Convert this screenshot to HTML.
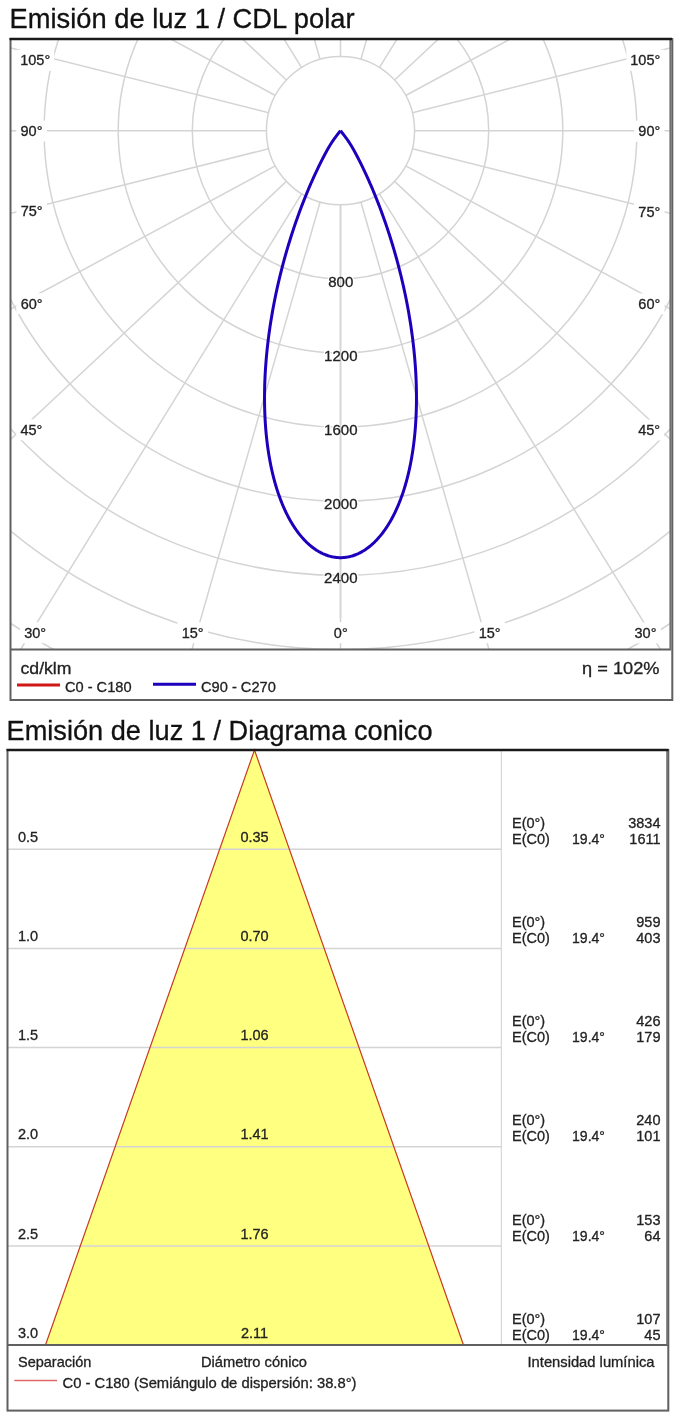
<!DOCTYPE html>
<html><head><meta charset="utf-8"><title>Emisión de luz</title>
<style>html,body{margin:0;padding:0;background:#fff;width:681px;height:1422px;overflow:hidden;font-family:"Liberation Sans", sans-serif}</style>
</head><body><svg width="681" height="1422" viewBox="0 0 681 1422" style="position:absolute;left:0;top:0;will-change:transform;font-family:'Liberation Sans', sans-serif"><text x="9.50" y="28.00" font-size="27.2" text-anchor="start" fill="#111" stroke="#111" stroke-width="0.3" textLength="345" lengthAdjust="spacingAndGlyphs" >Emisión de luz 1 / CDL polar</text><defs><clipPath id="pc"><rect x="10.5" y="39" width="660.0" height="610.5"/></clipPath></defs><g clip-path="url(#pc)" fill="none" stroke="#d4d4d4" stroke-width="1.5"><circle cx="340.5" cy="130.7" r="74.10"/><circle cx="340.5" cy="130.7" r="148.20"/><circle cx="340.5" cy="130.7" r="222.30"/><circle cx="340.5" cy="130.7" r="296.40"/><circle cx="340.5" cy="130.7" r="370.50"/><circle cx="340.5" cy="130.7" r="444.60"/><circle cx="340.5" cy="130.7" r="518.70"/><circle cx="340.5" cy="130.7" r="592.80"/><circle cx="340.5" cy="130.7" r="666.90"/><line x1="340.50" y1="204.80" x2="340.50" y2="1030.70"/><line x1="360.89" y1="201.94" x2="588.19" y2="995.94"/><line x1="379.40" y1="193.77" x2="812.99" y2="896.70"/><line x1="394.60" y1="181.34" x2="997.58" y2="745.72"/><line x1="405.69" y1="165.93" x2="1132.28" y2="558.58"/><line x1="412.37" y1="148.73" x2="1213.46" y2="349.64"/><line x1="414.60" y1="130.70" x2="1240.50" y2="130.70"/><line x1="412.37" y1="112.67" x2="1213.46" y2="-88.24"/><line x1="405.69" y1="95.47" x2="1132.28" y2="-297.18"/><line x1="394.60" y1="80.06" x2="997.58" y2="-484.32"/><line x1="379.40" y1="67.63" x2="812.99" y2="-635.30"/><line x1="360.89" y1="59.46" x2="588.19" y2="-734.54"/><line x1="340.50" y1="56.60" x2="340.50" y2="-769.30"/><line x1="320.11" y1="59.46" x2="92.81" y2="-734.54"/><line x1="301.60" y1="67.63" x2="-131.99" y2="-635.30"/><line x1="286.40" y1="80.06" x2="-316.58" y2="-484.32"/><line x1="275.31" y1="95.47" x2="-451.28" y2="-297.18"/><line x1="268.63" y1="112.67" x2="-532.46" y2="-88.24"/><line x1="266.40" y1="130.70" x2="-559.50" y2="130.70"/><line x1="268.63" y1="148.73" x2="-532.46" y2="349.64"/><line x1="275.31" y1="165.93" x2="-451.28" y2="558.58"/><line x1="286.40" y1="181.34" x2="-316.58" y2="745.72"/><line x1="301.60" y1="193.77" x2="-131.99" y2="896.70"/><line x1="320.11" y1="201.94" x2="92.81" y2="995.94"/></g><rect x="16.20" y="49.80" width="38.0" height="21" fill="#fff"/><text x="35.20" y="65.30" font-size="14.5" text-anchor="middle" fill="#222" stroke="#222" stroke-width="0.3" >105°</text><rect x="16.25" y="120.50" width="30.5" height="21" fill="#fff"/><text x="31.50" y="136.00" font-size="14.5" text-anchor="middle" fill="#222" stroke="#222" stroke-width="0.3" >90°</text><rect x="16.35" y="200.50" width="30.5" height="21" fill="#fff"/><text x="31.60" y="216.00" font-size="14.5" text-anchor="middle" fill="#222" stroke="#222" stroke-width="0.3" >75°</text><rect x="16.35" y="293.20" width="30.5" height="21" fill="#fff"/><text x="31.60" y="308.70" font-size="14.5" text-anchor="middle" fill="#222" stroke="#222" stroke-width="0.3" >60°</text><rect x="16.15" y="419.30" width="30.5" height="21" fill="#fff"/><text x="31.40" y="434.80" font-size="14.5" text-anchor="middle" fill="#222" stroke="#222" stroke-width="0.3" >45°</text><rect x="19.95" y="622.20" width="30.5" height="21" fill="#fff"/><text x="35.20" y="637.70" font-size="14.5" text-anchor="middle" fill="#222" stroke="#222" stroke-width="0.3" >30°</text><rect x="626.30" y="49.80" width="38.0" height="21" fill="#fff"/><text x="645.30" y="65.30" font-size="14.5" text-anchor="middle" fill="#222" stroke="#222" stroke-width="0.3" >105°</text><rect x="634.05" y="120.70" width="30.5" height="21" fill="#fff"/><text x="649.30" y="136.20" font-size="14.5" text-anchor="middle" fill="#222" stroke="#222" stroke-width="0.3" >90°</text><rect x="634.05" y="201.00" width="30.5" height="21" fill="#fff"/><text x="649.30" y="216.50" font-size="14.5" text-anchor="middle" fill="#222" stroke="#222" stroke-width="0.3" >75°</text><rect x="634.05" y="293.40" width="30.5" height="21" fill="#fff"/><text x="649.30" y="308.90" font-size="14.5" text-anchor="middle" fill="#222" stroke="#222" stroke-width="0.3" >60°</text><rect x="633.85" y="419.50" width="30.5" height="21" fill="#fff"/><text x="649.10" y="435.00" font-size="14.5" text-anchor="middle" fill="#222" stroke="#222" stroke-width="0.3" >45°</text><rect x="630.25" y="622.40" width="30.5" height="21" fill="#fff"/><text x="645.50" y="637.90" font-size="14.5" text-anchor="middle" fill="#222" stroke="#222" stroke-width="0.3" >30°</text><rect x="177.45" y="622.20" width="30.5" height="21" fill="#fff"/><text x="192.70" y="637.70" font-size="14.5" text-anchor="middle" fill="#222" stroke="#222" stroke-width="0.3" >15°</text><rect x="474.45" y="622.20" width="30.5" height="21" fill="#fff"/><text x="489.70" y="637.70" font-size="14.5" text-anchor="middle" fill="#222" stroke="#222" stroke-width="0.3" >15°</text><rect x="329.30" y="622.20" width="23.0" height="21" fill="#fff"/><text x="340.80" y="637.70" font-size="14.5" text-anchor="middle" fill="#222" stroke="#222" stroke-width="0.3" >0°</text><text x="340.8" y="286.50" font-size="15" text-anchor="middle" fill="#fff" stroke="#fff" stroke-width="3">800</text><text x="340.8" y="360.60" font-size="15" text-anchor="middle" fill="#fff" stroke="#fff" stroke-width="3">1200</text><text x="340.8" y="434.70" font-size="15" text-anchor="middle" fill="#fff" stroke="#fff" stroke-width="3">1600</text><text x="340.8" y="508.80" font-size="15" text-anchor="middle" fill="#fff" stroke="#fff" stroke-width="3">2000</text><text x="340.8" y="582.90" font-size="15" text-anchor="middle" fill="#fff" stroke="#fff" stroke-width="3">2400</text><line x1="340.5" y1="204.80" x2="340.5" y2="618" stroke="#d4d4d4" stroke-width="1.5"/><text x="340.80" y="286.50" font-size="15" text-anchor="middle" fill="#222" stroke="#222" stroke-width="0.3" >800</text><text x="340.80" y="360.60" font-size="15" text-anchor="middle" fill="#222" stroke="#222" stroke-width="0.3" >1200</text><text x="340.80" y="434.70" font-size="15" text-anchor="middle" fill="#222" stroke="#222" stroke-width="0.3" >1600</text><text x="340.80" y="508.80" font-size="15" text-anchor="middle" fill="#222" stroke="#222" stroke-width="0.3" >2000</text><text x="340.80" y="582.90" font-size="15" text-anchor="middle" fill="#222" stroke="#222" stroke-width="0.3" >2400</text><path d="M340.50,130.70 L340.01,131.30 L339.50,131.94 L339.01,132.55 L338.54,133.15 L338.09,133.73 L337.65,134.29 L337.23,134.83 L336.83,135.36 L336.44,135.87 L336.07,136.37 L335.71,136.85 L335.36,137.32 L335.02,137.78 L334.70,138.23 L334.39,138.66 L334.08,139.09 L333.79,139.50 L333.50,139.91 L333.23,140.30 L332.96,140.69 L332.70,141.07 L332.45,141.45 L332.20,141.82 L331.96,142.18 L331.72,142.54 L331.49,142.89 L331.27,143.25 L331.05,143.59 L330.83,143.94 L330.61,144.28 L330.40,144.62 L330.19,144.96 L329.98,145.30 L329.78,145.64 L329.57,145.98 L329.37,146.32 L329.17,146.66 L328.96,147.01 L328.76,147.35 L328.56,147.70 L328.36,148.05 L328.16,148.40 L327.95,148.76 L327.75,149.12 L327.54,149.49 L327.33,149.86 L327.12,150.24 L326.91,150.62 L326.70,151.01 L326.48,151.40 L326.26,151.80 L326.04,152.21 L325.82,152.62 L325.59,153.05 L325.36,153.48 L325.12,153.91 L324.89,154.36 L324.65,154.81 L324.40,155.28 L324.15,155.75 L323.90,156.23 L323.64,156.72 L323.38,157.22 L323.12,157.73 L322.85,158.26 L322.58,158.79 L322.30,159.33 L322.02,159.88 L321.74,160.44 L321.44,161.02 L321.15,161.60 L320.85,162.20 L320.55,162.81 L320.24,163.43 L319.93,164.06 L319.61,164.70 L319.29,165.36 L318.96,166.03 L318.63,166.71 L318.30,167.40 L317.96,168.11 L317.61,168.83 L317.26,169.56 L316.91,170.30 L316.55,171.06 L316.19,171.82 L315.83,172.61 L315.46,173.40 L315.08,174.21 L314.70,175.03 L314.32,175.87 L313.93,176.71 L313.54,177.57 L313.15,178.45 L312.75,179.34 L312.35,180.24 L311.94,181.15 L311.53,182.08 L311.12,183.02 L310.70,183.97 L310.29,184.94 L309.86,185.92 L309.44,186.91 L309.01,187.92 L308.57,188.94 L308.14,189.98 L307.70,191.02 L307.26,192.08 L306.82,193.16 L306.37,194.24 L305.92,195.34 L305.47,196.46 L305.02,197.58 L304.56,198.72 L304.10,199.87 L303.64,201.04 L303.18,202.21 L302.72,203.40 L302.25,204.60 L301.79,205.82 L301.32,207.05 L300.85,208.28 L300.38,209.54 L299.91,210.80 L299.44,212.08 L298.97,213.36 L298.49,214.66 L298.02,215.97 L297.54,217.30 L297.07,218.63 L296.59,219.98 L296.12,221.33 L295.64,222.70 L295.16,224.08 L294.69,225.47 L294.21,226.88 L293.74,228.29 L293.26,229.71 L292.79,231.14 L292.32,232.59 L291.85,234.04 L291.37,235.51 L290.90,236.98 L290.43,238.47 L289.97,239.96 L289.50,241.46 L289.04,242.98 L288.57,244.50 L288.11,246.03 L287.65,247.57 L287.19,249.12 L286.74,250.68 L286.28,252.25 L285.83,253.82 L285.38,255.41 L284.94,257.00 L284.49,258.60 L284.05,260.21 L283.62,261.82 L283.18,263.45 L282.75,265.08 L282.32,266.71 L281.89,268.36 L281.47,270.01 L281.05,271.67 L280.63,273.34 L280.22,275.01 L279.81,276.69 L279.41,278.37 L279.01,280.06 L278.61,281.76 L278.22,283.46 L277.83,285.17 L277.44,286.88 L277.06,288.60 L276.68,290.32 L276.31,292.05 L275.94,293.78 L275.58,295.52 L275.22,297.26 L274.87,299.01 L274.52,300.76 L274.18,302.51 L273.84,304.27 L273.51,306.03 L273.18,307.80 L272.85,309.56 L272.54,311.33 L272.22,313.11 L271.92,314.89 L271.62,316.66 L271.32,318.45 L271.03,320.23 L270.74,322.02 L270.46,323.80 L270.19,325.59 L269.92,327.39 L269.66,329.18 L269.41,330.97 L269.16,332.77 L268.91,334.57 L268.68,336.36 L268.44,338.16 L268.22,339.96 L268.00,341.76 L267.79,343.56 L267.58,345.36 L267.38,347.16 L267.19,348.96 L267.00,350.76 L266.82,352.55 L266.65,354.35 L266.48,356.15 L266.32,357.94 L266.17,359.74 L266.02,361.53 L265.88,363.32 L265.75,365.11 L265.62,366.90 L265.50,368.69 L265.39,370.47 L265.28,372.25 L265.18,374.03 L265.09,375.81 L265.01,377.58 L264.93,379.35 L264.86,381.12 L264.79,382.89 L264.73,384.65 L264.68,386.41 L264.64,388.17 L264.60,389.92 L264.58,391.67 L264.55,393.41 L264.54,395.15 L264.53,396.89 L264.53,398.62 L264.54,400.35 L264.55,402.07 L264.57,403.79 L264.60,405.51 L264.64,407.21 L264.68,408.92 L264.73,410.62 L264.79,412.31 L264.85,414.00 L264.92,415.68 L265.00,417.36 L265.08,419.03 L265.18,420.70 L265.28,422.35 L265.38,424.01 L265.50,425.65 L265.62,427.30 L265.75,428.93 L265.88,430.56 L266.03,432.18 L266.17,433.79 L266.33,435.40 L266.49,437.00 L266.67,438.59 L266.84,440.18 L267.03,441.76 L267.22,443.33 L267.42,444.89 L267.62,446.45 L267.84,447.99 L268.06,449.53 L268.28,451.07 L268.51,452.59 L268.75,454.11 L269.00,455.62 L269.25,457.11 L269.51,458.61 L269.78,460.09 L270.06,461.56 L270.34,463.03 L270.62,464.48 L270.92,465.93 L271.22,467.37 L271.52,468.80 L271.84,470.22 L272.16,471.63 L272.48,473.04 L272.81,474.43 L273.15,475.81 L273.50,477.19 L273.85,478.55 L274.21,479.90 L274.57,481.25 L274.94,482.58 L275.32,483.91 L275.70,485.22 L276.09,486.53 L276.48,487.82 L276.88,489.11 L277.29,490.38 L277.70,491.65 L278.12,492.90 L278.54,494.14 L278.97,495.37 L279.41,496.60 L279.85,497.81 L280.30,499.01 L280.75,500.20 L281.21,501.38 L281.67,502.55 L282.14,503.70 L282.61,504.85 L283.09,505.98 L283.58,507.11 L284.07,508.22 L284.56,509.32 L285.06,510.41 L285.57,511.49 L286.08,512.56 L286.60,513.61 L287.12,514.66 L287.64,515.69 L288.17,516.71 L288.71,517.72 L289.25,518.72 L289.79,519.70 L290.34,520.67 L290.90,521.64 L291.46,522.59 L292.02,523.53 L292.59,524.45 L293.16,525.37 L293.73,526.27 L294.31,527.16 L294.90,528.04 L295.49,528.90 L296.08,529.75 L296.68,530.60 L297.28,531.42 L297.88,532.24 L298.49,533.04 L299.10,533.84 L299.72,534.62 L300.34,535.38 L300.96,536.14 L301.59,536.88 L302.22,537.61 L302.85,538.32 L303.49,539.03 L304.13,539.72 L304.77,540.40 L305.42,541.06 L306.07,541.72 L306.72,542.36 L307.38,542.98 L308.04,543.60 L308.70,544.20 L309.37,544.79 L310.03,545.36 L310.71,545.93 L311.38,546.48 L312.05,547.01 L312.73,547.54 L313.41,548.05 L314.10,548.55 L314.78,549.03 L315.47,549.50 L316.16,549.96 L316.85,550.41 L317.55,550.84 L318.24,551.26 L318.94,551.67 L319.64,552.06 L320.34,552.44 L321.05,552.81 L321.75,553.16 L322.46,553.50 L323.17,553.83 L323.88,554.14 L324.59,554.44 L325.31,554.73 L326.02,555.00 L326.74,555.26 L327.45,555.51 L328.17,555.74 L328.89,555.97 L329.61,556.17 L330.33,556.37 L331.06,556.55 L331.78,556.71 L332.50,556.87 L333.23,557.01 L333.95,557.14 L334.68,557.25 L335.41,557.35 L336.13,557.44 L336.86,557.51 L337.59,557.57 L338.32,557.62 L339.04,557.65 L339.77,557.67 L340.50,557.68 L341.23,557.67 L341.96,557.65 L342.68,557.62 L343.41,557.57 L344.14,557.51 L344.87,557.44 L345.59,557.35 L346.32,557.25 L347.05,557.14 L347.77,557.01 L348.50,556.87 L349.22,556.71 L349.94,556.55 L350.67,556.37 L351.39,556.17 L352.11,555.97 L352.83,555.74 L353.55,555.51 L354.26,555.26 L354.98,555.00 L355.69,554.73 L356.41,554.44 L357.12,554.14 L357.83,553.83 L358.54,553.50 L359.25,553.16 L359.95,552.81 L360.66,552.44 L361.36,552.06 L362.06,551.67 L362.76,551.26 L363.45,550.84 L364.15,550.41 L364.84,549.96 L365.53,549.50 L366.22,549.03 L366.90,548.55 L367.59,548.05 L368.27,547.54 L368.95,547.01 L369.62,546.48 L370.29,545.93 L370.97,545.36 L371.63,544.79 L372.30,544.20 L372.96,543.60 L373.62,542.98 L374.28,542.36 L374.93,541.72 L375.58,541.06 L376.23,540.40 L376.87,539.72 L377.51,539.03 L378.15,538.32 L378.78,537.61 L379.41,536.88 L380.04,536.14 L380.66,535.38 L381.28,534.62 L381.90,533.84 L382.51,533.04 L383.12,532.24 L383.72,531.42 L384.32,530.60 L384.92,529.75 L385.51,528.90 L386.10,528.04 L386.69,527.16 L387.27,526.27 L387.84,525.37 L388.41,524.45 L388.98,523.53 L389.54,522.59 L390.10,521.64 L390.66,520.67 L391.21,519.70 L391.75,518.72 L392.29,517.72 L392.83,516.71 L393.36,515.69 L393.88,514.66 L394.40,513.61 L394.92,512.56 L395.43,511.49 L395.94,510.41 L396.44,509.32 L396.93,508.22 L397.42,507.11 L397.91,505.98 L398.39,504.85 L398.86,503.70 L399.33,502.55 L399.79,501.38 L400.25,500.20 L400.70,499.01 L401.15,497.81 L401.59,496.60 L402.03,495.37 L402.46,494.14 L402.88,492.90 L403.30,491.65 L403.71,490.38 L404.12,489.11 L404.52,487.82 L404.91,486.53 L405.30,485.22 L405.68,483.91 L406.06,482.58 L406.43,481.25 L406.79,479.90 L407.15,478.55 L407.50,477.19 L407.85,475.81 L408.19,474.43 L408.52,473.04 L408.84,471.63 L409.16,470.22 L409.48,468.80 L409.78,467.37 L410.08,465.93 L410.38,464.48 L410.66,463.03 L410.94,461.56 L411.22,460.09 L411.49,458.61 L411.75,457.11 L412.00,455.62 L412.25,454.11 L412.49,452.59 L412.72,451.07 L412.94,449.53 L413.16,447.99 L413.38,446.45 L413.58,444.89 L413.78,443.33 L413.97,441.76 L414.16,440.18 L414.33,438.59 L414.51,437.00 L414.67,435.40 L414.83,433.79 L414.97,432.18 L415.12,430.56 L415.25,428.93 L415.38,427.30 L415.50,425.65 L415.62,424.01 L415.72,422.35 L415.82,420.70 L415.92,419.03 L416.00,417.36 L416.08,415.68 L416.15,414.00 L416.21,412.31 L416.27,410.62 L416.32,408.92 L416.36,407.21 L416.40,405.51 L416.43,403.79 L416.45,402.07 L416.46,400.35 L416.47,398.62 L416.47,396.89 L416.46,395.15 L416.45,393.41 L416.42,391.67 L416.40,389.92 L416.36,388.17 L416.32,386.41 L416.27,384.65 L416.21,382.89 L416.14,381.12 L416.07,379.35 L415.99,377.58 L415.91,375.81 L415.82,374.03 L415.72,372.25 L415.61,370.47 L415.50,368.69 L415.38,366.90 L415.25,365.11 L415.12,363.32 L414.98,361.53 L414.83,359.74 L414.68,357.94 L414.52,356.15 L414.35,354.35 L414.18,352.55 L414.00,350.76 L413.81,348.96 L413.62,347.16 L413.42,345.36 L413.21,343.56 L413.00,341.76 L412.78,339.96 L412.56,338.16 L412.32,336.36 L412.09,334.57 L411.84,332.77 L411.59,330.97 L411.34,329.18 L411.08,327.39 L410.81,325.59 L410.54,323.80 L410.26,322.02 L409.97,320.23 L409.68,318.45 L409.38,316.66 L409.08,314.89 L408.78,313.11 L408.46,311.33 L408.15,309.56 L407.82,307.80 L407.49,306.03 L407.16,304.27 L406.82,302.51 L406.48,300.76 L406.13,299.01 L405.78,297.26 L405.42,295.52 L405.06,293.78 L404.69,292.05 L404.32,290.32 L403.94,288.60 L403.56,286.88 L403.17,285.17 L402.78,283.46 L402.39,281.76 L401.99,280.06 L401.59,278.37 L401.19,276.69 L400.78,275.01 L400.37,273.34 L399.95,271.67 L399.53,270.01 L399.11,268.36 L398.68,266.71 L398.25,265.08 L397.82,263.45 L397.38,261.82 L396.95,260.21 L396.51,258.60 L396.06,257.00 L395.62,255.41 L395.17,253.82 L394.72,252.25 L394.26,250.68 L393.81,249.12 L393.35,247.57 L392.89,246.03 L392.43,244.50 L391.96,242.98 L391.50,241.46 L391.03,239.96 L390.57,238.47 L390.10,236.98 L389.63,235.51 L389.15,234.04 L388.68,232.59 L388.21,231.14 L387.74,229.71 L387.26,228.29 L386.79,226.88 L386.31,225.47 L385.84,224.08 L385.36,222.70 L384.88,221.33 L384.41,219.98 L383.93,218.63 L383.46,217.30 L382.98,215.97 L382.51,214.66 L382.03,213.36 L381.56,212.08 L381.09,210.80 L380.62,209.54 L380.15,208.28 L379.68,207.05 L379.21,205.82 L378.75,204.60 L378.28,203.40 L377.82,202.21 L377.36,201.04 L376.90,199.87 L376.44,198.72 L375.98,197.58 L375.53,196.46 L375.08,195.34 L374.63,194.24 L374.18,193.16 L373.74,192.08 L373.30,191.02 L372.86,189.98 L372.43,188.94 L371.99,187.92 L371.56,186.91 L371.14,185.92 L370.71,184.94 L370.30,183.97 L369.88,183.02 L369.47,182.08 L369.06,181.15 L368.65,180.24 L368.25,179.34 L367.85,178.45 L367.46,177.57 L367.07,176.71 L366.68,175.87 L366.30,175.03 L365.92,174.21 L365.54,173.40 L365.17,172.61 L364.81,171.82 L364.45,171.06 L364.09,170.30 L363.74,169.56 L363.39,168.83 L363.04,168.11 L362.70,167.40 L362.37,166.71 L362.04,166.03 L361.71,165.36 L361.39,164.70 L361.07,164.06 L360.76,163.43 L360.45,162.81 L360.15,162.20 L359.85,161.60 L359.56,161.02 L359.26,160.44 L358.98,159.88 L358.70,159.33 L358.42,158.79 L358.15,158.26 L357.88,157.73 L357.62,157.22 L357.36,156.72 L357.10,156.23 L356.85,155.75 L356.60,155.28 L356.35,154.81 L356.11,154.36 L355.88,153.91 L355.64,153.48 L355.41,153.05 L355.18,152.62 L354.96,152.21 L354.74,151.80 L354.52,151.40 L354.30,151.01 L354.09,150.62 L353.88,150.24 L353.67,149.86 L353.46,149.49 L353.25,149.12 L353.05,148.76 L352.84,148.40 L352.64,148.05 L352.44,147.70 L352.24,147.35 L352.04,147.01 L351.83,146.66 L351.63,146.32 L351.43,145.98 L351.22,145.64 L351.02,145.30 L350.81,144.96 L350.60,144.62 L350.39,144.28 L350.17,143.94 L349.95,143.59 L349.73,143.25 L349.51,142.89 L349.28,142.54 L349.04,142.18 L348.80,141.82 L348.55,141.45 L348.30,141.07 L348.04,140.69 L347.77,140.30 L347.50,139.91 L347.21,139.50 L346.92,139.09 L346.61,138.66 L346.30,138.23 L345.98,137.78 L345.64,137.32 L345.29,136.85 L344.93,136.37 L344.56,135.87 L344.17,135.36 L343.77,134.83 L343.35,134.29 L342.91,133.73 L342.46,133.15 L341.99,132.55 L341.50,131.94 L340.99,131.30 L340.50,130.70" fill="none" stroke="#1c00bc" stroke-width="3" stroke-linejoin="miter"/><rect x="10.5" y="39" width="661.8" height="661" fill="none" stroke="#606060" stroke-width="2"/><line x1="10" y1="649.5" x2="671" y2="649.5" stroke="#606060" stroke-width="2"/><line x1="670.4" y1="39" x2="670.4" y2="649.5" stroke="#707070" stroke-width="2"/><line x1="9.5" y1="39" x2="672" y2="39" stroke="#1a1a1a" stroke-width="2.4"/><text x="20.50" y="674.30" font-size="17" text-anchor="start" fill="#222" stroke="#222" stroke-width="0.3" textLength="51" lengthAdjust="spacingAndGlyphs" >cd/klm</text><line x1="17" y1="685" x2="60" y2="685" stroke="#d01818" stroke-width="3"/><text x="65.00" y="691.80" font-size="14.5" text-anchor="start" fill="#222" stroke="#222" stroke-width="0.3" textLength="66.5" lengthAdjust="spacingAndGlyphs" >C0 - C180</text><line x1="153" y1="684.3" x2="196" y2="684.3" stroke="#1c00bc" stroke-width="3"/><text x="201.00" y="691.80" font-size="14.5" text-anchor="start" fill="#222" stroke="#222" stroke-width="0.3" textLength="74.8" lengthAdjust="spacingAndGlyphs" >C90 - C270</text><text x="659.50" y="674.30" font-size="17" text-anchor="end" fill="#222" stroke="#222" stroke-width="0.3" textLength="77.5" lengthAdjust="spacingAndGlyphs" >η = 102%</text><text x="6.50" y="739.50" font-size="27.2" text-anchor="start" fill="#111" stroke="#111" stroke-width="0.3" textLength="426" lengthAdjust="spacingAndGlyphs" >Emisión de luz 1 / Diagrama conico</text><polygon points="254.5,750 463.5,1345 45.5,1345" fill="#ffff80"/><line x1="7.5" y1="849.20" x2="501.3" y2="849.20" stroke="#d4d4d4" stroke-width="1.5"/><line x1="7.5" y1="948.40" x2="501.3" y2="948.40" stroke="#d4d4d4" stroke-width="1.5"/><line x1="7.5" y1="1047.60" x2="501.3" y2="1047.60" stroke="#d4d4d4" stroke-width="1.5"/><line x1="7.5" y1="1146.80" x2="501.3" y2="1146.80" stroke="#d4d4d4" stroke-width="1.5"/><line x1="7.5" y1="1246.00" x2="501.3" y2="1246.00" stroke="#d4d4d4" stroke-width="1.5"/><line x1="501.3" y1="750" x2="501.3" y2="1345" stroke="#d0d0d0" stroke-width="1"/><polyline points="45.5,1345 254.5,750 463.5,1345" fill="none" stroke="#c83a22" stroke-width="1.2"/><text x="18.00" y="841.70" font-size="14.5" text-anchor="start" fill="#222" stroke="#222" stroke-width="0.3" >0.5</text><text x="254.50" y="841.70" font-size="14.5" text-anchor="middle" fill="#222" stroke="#222" stroke-width="0.3" >0.35</text><text x="512.00" y="827.80" font-size="14.5" text-anchor="start" fill="#222" stroke="#222" stroke-width="0.3" >E(0°)</text><text x="660.50" y="827.80" font-size="14.5" text-anchor="end" fill="#222" stroke="#222" stroke-width="0.3" >3834</text><text x="512.00" y="843.80" font-size="14.5" text-anchor="start" fill="#222" stroke="#222" stroke-width="0.3" >E(C0)</text><text x="572.00" y="843.80" font-size="14.5" text-anchor="start" fill="#222" stroke="#222" stroke-width="0.3" textLength="33" lengthAdjust="spacingAndGlyphs" >19.4°</text><text x="660.50" y="843.80" font-size="14.5" text-anchor="end" fill="#222" stroke="#222" stroke-width="0.3" >1611</text><text x="18.00" y="940.90" font-size="14.5" text-anchor="start" fill="#222" stroke="#222" stroke-width="0.3" >1.0</text><text x="254.50" y="940.90" font-size="14.5" text-anchor="middle" fill="#222" stroke="#222" stroke-width="0.3" >0.70</text><text x="512.00" y="927.00" font-size="14.5" text-anchor="start" fill="#222" stroke="#222" stroke-width="0.3" >E(0°)</text><text x="660.50" y="927.00" font-size="14.5" text-anchor="end" fill="#222" stroke="#222" stroke-width="0.3" >959</text><text x="512.00" y="943.00" font-size="14.5" text-anchor="start" fill="#222" stroke="#222" stroke-width="0.3" >E(C0)</text><text x="572.00" y="943.00" font-size="14.5" text-anchor="start" fill="#222" stroke="#222" stroke-width="0.3" textLength="33" lengthAdjust="spacingAndGlyphs" >19.4°</text><text x="660.50" y="943.00" font-size="14.5" text-anchor="end" fill="#222" stroke="#222" stroke-width="0.3" >403</text><text x="18.00" y="1040.10" font-size="14.5" text-anchor="start" fill="#222" stroke="#222" stroke-width="0.3" >1.5</text><text x="254.50" y="1040.10" font-size="14.5" text-anchor="middle" fill="#222" stroke="#222" stroke-width="0.3" >1.06</text><text x="512.00" y="1026.20" font-size="14.5" text-anchor="start" fill="#222" stroke="#222" stroke-width="0.3" >E(0°)</text><text x="660.50" y="1026.20" font-size="14.5" text-anchor="end" fill="#222" stroke="#222" stroke-width="0.3" >426</text><text x="512.00" y="1042.20" font-size="14.5" text-anchor="start" fill="#222" stroke="#222" stroke-width="0.3" >E(C0)</text><text x="572.00" y="1042.20" font-size="14.5" text-anchor="start" fill="#222" stroke="#222" stroke-width="0.3" textLength="33" lengthAdjust="spacingAndGlyphs" >19.4°</text><text x="660.50" y="1042.20" font-size="14.5" text-anchor="end" fill="#222" stroke="#222" stroke-width="0.3" >179</text><text x="18.00" y="1139.30" font-size="14.5" text-anchor="start" fill="#222" stroke="#222" stroke-width="0.3" >2.0</text><text x="254.50" y="1139.30" font-size="14.5" text-anchor="middle" fill="#222" stroke="#222" stroke-width="0.3" >1.41</text><text x="512.00" y="1125.40" font-size="14.5" text-anchor="start" fill="#222" stroke="#222" stroke-width="0.3" >E(0°)</text><text x="660.50" y="1125.40" font-size="14.5" text-anchor="end" fill="#222" stroke="#222" stroke-width="0.3" >240</text><text x="512.00" y="1141.40" font-size="14.5" text-anchor="start" fill="#222" stroke="#222" stroke-width="0.3" >E(C0)</text><text x="572.00" y="1141.40" font-size="14.5" text-anchor="start" fill="#222" stroke="#222" stroke-width="0.3" textLength="33" lengthAdjust="spacingAndGlyphs" >19.4°</text><text x="660.50" y="1141.40" font-size="14.5" text-anchor="end" fill="#222" stroke="#222" stroke-width="0.3" >101</text><text x="18.00" y="1238.50" font-size="14.5" text-anchor="start" fill="#222" stroke="#222" stroke-width="0.3" >2.5</text><text x="254.50" y="1238.50" font-size="14.5" text-anchor="middle" fill="#222" stroke="#222" stroke-width="0.3" >1.76</text><text x="512.00" y="1224.60" font-size="14.5" text-anchor="start" fill="#222" stroke="#222" stroke-width="0.3" >E(0°)</text><text x="660.50" y="1224.60" font-size="14.5" text-anchor="end" fill="#222" stroke="#222" stroke-width="0.3" >153</text><text x="512.00" y="1240.60" font-size="14.5" text-anchor="start" fill="#222" stroke="#222" stroke-width="0.3" >E(C0)</text><text x="572.00" y="1240.60" font-size="14.5" text-anchor="start" fill="#222" stroke="#222" stroke-width="0.3" textLength="33" lengthAdjust="spacingAndGlyphs" >19.4°</text><text x="660.50" y="1240.60" font-size="14.5" text-anchor="end" fill="#222" stroke="#222" stroke-width="0.3" >64</text><text x="18.00" y="1337.70" font-size="14.5" text-anchor="start" fill="#222" stroke="#222" stroke-width="0.3" >3.0</text><text x="254.50" y="1337.70" font-size="14.5" text-anchor="middle" fill="#222" stroke="#222" stroke-width="0.3" >2.11</text><text x="512.00" y="1323.80" font-size="14.5" text-anchor="start" fill="#222" stroke="#222" stroke-width="0.3" >E(0°)</text><text x="660.50" y="1323.80" font-size="14.5" text-anchor="end" fill="#222" stroke="#222" stroke-width="0.3" >107</text><text x="512.00" y="1339.80" font-size="14.5" text-anchor="start" fill="#222" stroke="#222" stroke-width="0.3" >E(C0)</text><text x="572.00" y="1339.80" font-size="14.5" text-anchor="start" fill="#222" stroke="#222" stroke-width="0.3" textLength="33" lengthAdjust="spacingAndGlyphs" >19.4°</text><text x="660.50" y="1339.80" font-size="14.5" text-anchor="end" fill="#222" stroke="#222" stroke-width="0.3" >45</text><rect x="7.5" y="750" width="660.8" height="660.5999999999999" fill="none" stroke="#606060" stroke-width="2"/><line x1="7" y1="1345" x2="668" y2="1345" stroke="#606060" stroke-width="1.8"/><line x1="667" y1="750" x2="667" y2="1345" stroke="#707070" stroke-width="1.6"/><line x1="6.5" y1="750" x2="668.5" y2="750" stroke="#1a1a1a" stroke-width="2.4"/><text x="18.00" y="1366.60" font-size="14.5" text-anchor="start" fill="#222" stroke="#222" stroke-width="0.3" >Separación</text><text x="254.00" y="1366.60" font-size="14.5" text-anchor="middle" fill="#222" stroke="#222" stroke-width="0.3" textLength="106" lengthAdjust="spacingAndGlyphs" >Diámetro cónico</text><text x="654.50" y="1366.60" font-size="14.5" text-anchor="end" fill="#222" stroke="#222" stroke-width="0.3" textLength="127" lengthAdjust="spacingAndGlyphs" >Intensidad lumínica</text><line x1="14.3" y1="1380.6" x2="57" y2="1380.6" stroke="#e06868" stroke-width="1.5"/><text x="62.50" y="1387.80" font-size="14.5" text-anchor="start" fill="#222" stroke="#222" stroke-width="0.3" textLength="294" lengthAdjust="spacingAndGlyphs" >C0 - C180 (Semiángulo de dispersión: 38.8°)</text></svg></body></html>
